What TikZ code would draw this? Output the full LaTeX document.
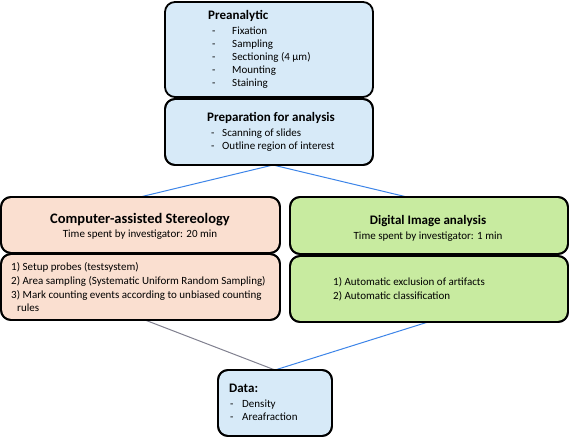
\documentclass[tikz,border=0pt]{standalone}
\usepackage{fontspec}
\setmainfont{Carlito}
\definecolor{bfill}{HTML}{D7EAF8}
\definecolor{pfill}{HTML}{FADFD0}
\definecolor{gfill}{HTML}{C8EBA0}
\definecolor{lblue}{HTML}{3C84E8}
\definecolor{lgray}{HTML}{80808F}
\tikzset{
  box/.style={draw=black, line width=1.8pt, rounded corners=10pt, inner sep=0pt},
  txt/.style={anchor=mid west, inner sep=0pt, font=\fontsize{11}{13}\selectfont},
  hdr/.style={anchor=mid west, inner sep=0pt, font=\fontsize{13}{15}\selectfont\bfseries},
  ttl/.style={anchor=mid, inner sep=0pt, font=\fontsize{14.5}{17}\selectfont\bfseries},
  sub/.style={anchor=mid, inner sep=0pt, font=\fontsize{11}{13}\selectfont},
  conn/.style={line width=1pt}
}
\begin{document}
\begin{tikzpicture}[x=1pt,y=-1pt]
\useasboundingbox (0,0) rectangle (569,437);
% boxes
\node[box, fill=bfill, minimum width=208pt, minimum height=95pt] (pre) at (269,49.5) {};
\node[box, fill=bfill, minimum width=208pt, minimum height=66pt] (prep) at (269,132) {};
\node[box, fill=pfill, minimum width=279pt, minimum height=56pt] (lt) at (140.5,225) {};
\node[box, fill=pfill, minimum width=279pt, minimum height=66pt] (lb) at (140.5,287) {};
\node[box, fill=gfill, minimum width=278pt, minimum height=57pt] (rt) at (429,225.5) {};
\node[box, fill=gfill, minimum width=278pt, minimum height=66pt] (rb) at (429,289) {};
\node[box, fill=bfill, minimum width=114pt, minimum height=66pt] (data) at (275,403) {};
% connector points
\coordinate (c1) at (273,165);
\coordinate (c2) at (140,197);
\coordinate (c3) at (407,197);
\coordinate (c4) at (145,320);
\coordinate (c5) at (428,322);
\coordinate (c6) at (275,370);
\draw[conn, lblue] (c1) -- (c2);
\draw[conn, lblue] (c1) -- (c3);
\draw[conn, lgray] (c4) -- (c6);
\draw[conn, lblue] (c5) -- (c6);
% redraw box borders over line ends
\node[box, minimum width=208pt, minimum height=66pt] at (prep) {};
\node[box, minimum width=279pt, minimum height=56pt] at (lt) {};
\node[box, minimum width=278pt, minimum height=57pt] at (rt) {};
\node[box, minimum width=279pt, minimum height=66pt] at (lb) {};
\node[box, minimum width=278pt, minimum height=66pt] at (rb) {};
\node[box, minimum width=114pt, minimum height=66pt] at (data) {};
% top box text
\node[hdr] (t0) at (208,17) {Preanalytic};
\foreach \y/\t [count=\i] in {32/Fixation,45/Sampling,58/Sectioning (4 µm),71/Mounting,84/Staining}{
  \node[txt] (d\i) at (212,\y) {-};
  \node[txt] (i\i) at (232,\y) {\t};
}
% preparation
\node[hdr] (t1) at (207,119) {Preparation for analysis};
\node[txt] (pd1) at (211,134) {-};
\node[txt] (pi1) at (222,134) {Scanning of slides};
\node[txt] (pd2) at (211,147) {-};
\node[txt] (pi2) at (222,147) {Outline region of interest};
% left
\node[ttl] (lt1) at (140,221) {Computer-assisted Stereology};
\node[sub] (lt2) at (140,235) {Time spent by investigator: 20 min};
\node[txt] (l1) at (11,268) {1) Setup probes (testsystem)};
\node[txt] (l2) at (11,282) {2) Area sampling (Systematic Uniform Random Sampling)};
\node[txt] (l3) at (11,296) {3) Mark counting events according to unbiased counting};
\node[txt] (l4) at (17,309) {rules};
% right
\node[ttl, font=\fontsize{13}{15}\selectfont\bfseries] (rt1) at (428,222) {Digital Image analysis};
\node[sub] (rt2) at (428,237) {Time spent by investigator: 1 min};
\node[txt] (r1) at (333,283) {1) Automatic exclusion of artifacts};
\node[txt] (r2) at (333,297) {2) Automatic classification};
% data
\node[hdr] (dt) at (229,390) {Data:};
\node[txt] (dd1) at (230,405) {-};
\node[txt] (di1) at (242,405) {Density};
\node[txt] (dd2) at (230,418) {-};
\node[txt] (di2) at (242,418) {Areafraction};
\end{tikzpicture}
\end{document}
